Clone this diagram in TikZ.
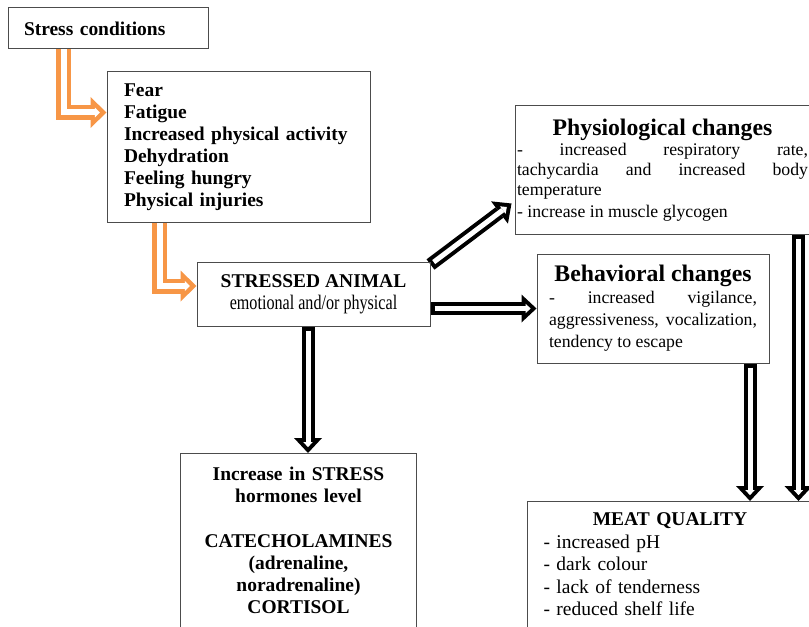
\documentclass[tikz,border=0pt]{standalone}
\usepackage{fontspec}
\setmainfont{Liberation Serif}
\newfontfamily\narrowserif[FakeStretch=0.78]{Liberation Serif}
\usetikzlibrary{arrows.meta}
\usetikzlibrary{backgrounds,calc}
\definecolor{stressorange}{HTML}{F79646}
\newcommand{\headfont}{\bfseries\fontsize{17.8}{20}\selectfont}
\newcommand{\bodyfont}{\mdseries\fontsize{13.3}{15}\selectfont}
\newcommand{\listfont}{\mdseries\fontsize{14.6}{16.8}\selectfont}

\tikzset{
  box/.style={draw=black!70, line width=0.75pt, inner sep=0pt,
    font=\bfseries\fontsize{14.6}{16.5}\selectfont},
  blackarrow/.style={draw=black, line width=9.75pt,
    -{Triangle[length=11.25pt, width=21pt, line width=0pt]},
    postaction={draw=white, line width=3.75pt, shorten <=3pt, shorten >=4.4pt,
      -{Triangle[length=3.8pt, width=7.1pt, line width=0pt]}}},
  orangearrow/.style={draw=stressorange, line width=11.25pt,
    -{Triangle[length=12pt, width=23.25pt, line width=0pt]},
    postaction={draw=white, line width=4.5pt, shorten >=4.9pt,
      -{Triangle[length=3.75pt, width=7.3pt, line width=0pt]}}}
}

\begin{document}
\begin{tikzpicture}[x=0.75pt,y=-0.75pt]
\useasboundingbox (0,0) rectangle (809,627);

% boxes
\node[box, minimum width=150pt, minimum height=30.75pt, text width=126pt, inner xsep=12pt, align=left] (cond) at (108,28.5) {Stress conditions};
\node[box, minimum width=197.25pt, minimum height=112.5pt, text width=171.75pt, inner xsep=12.75pt, align=left] (fear) at (238.5,147)
  {Fear\\Fatigue\\Increased physical activity\\Dehydration\\Feeling hungry\\Physical injuries};
\node[box, minimum width=174.75pt, minimum height=48pt, align=center] (stressed) at (313.5,294)
  {STRESSED ANIMAL\\\narrowserif\mdseries\fontsize{15.5}{14.6}\selectfont emotional and/or physical};
\node[box, minimum width=221.25pt, minimum height=96pt, text width=218.25pt, inner xsep=1.5pt, align=justify] (physio) at (662.5,170)
  {{\centering\headfont Physiological changes\par}\bodyfont - increased respiratory rate,\linebreak tachycardia and increased body\linebreak temperature\par - increase in muscle glycogen};
\node[box, minimum width=174pt, minimum height=81.75pt, text width=156pt, inner xsep=9pt, align=justify] (behav) at (653,308.5)
  {{\centering\headfont Behavioral changes\par}\bodyfont - increased vigilance,\linebreak aggressiveness, vocalization,\linebreak tendency to escape};
\node[box, anchor=north west, text width=162pt, inner xsep=7.5pt, inner ysep=10.3pt, text depth=125pt, align=center] (hormones) at (180,453)
  {Increase in STRESS\\hormones level\\[17.25pt]CATECHOLAMINES\\(adrenaline,\\noradrenaline)\\CORTISOL};
\node[box, anchor=north west, text width=189.75pt, inner xsep=12pt, inner ysep=8.7pt, text depth=95pt, align=left, font=\listfont] (meat) at (527,501)
  {{\centering\bfseries MEAT QUALITY\par}- increased pH\\- dark colour\\- lack of tenderness\\- reduced shelf life};

% arrows
\begin{scope}[on background layer]
\coordinate (o1) at ($(cond.south west)+(56,0)$);
\draw[orangearrow] (o1) |- ($(fear.north west)+(0,41)$);
\coordinate (o2) at ($(fear.south west)+(53,0)$);
\draw[orangearrow] (o2) |- ($(stressed.west)+(0,-8)$);
\draw[blackarrow] ($(stressed.north east)+(0,3)$) -- ($(physio.south west)+(-3,-31)$);
\draw[blackarrow] (stressed.east |- behav.west) -- (behav.west);
\coordinate (d1) at ($(stressed.south)+(-5.5,0)$);
\draw[blackarrow] (d1) -- (d1 |- hormones.north);
\coordinate (d2) at ($(behav.south east)+(-19.5,0)$);
\draw[blackarrow] (d2) -- (d2 |- meat.north);
\coordinate (d3) at ($(physio.south west)+(284,0)$);
\draw[blackarrow] (d3) -- (d3 |- meat.north);
\end{scope}
\end{tikzpicture}
\end{document}
